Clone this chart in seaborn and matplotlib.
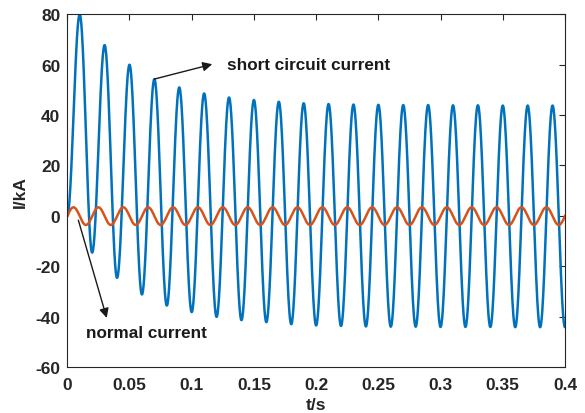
import matplotlib
matplotlib.use('Agg')
import matplotlib.pyplot as plt
import numpy as np
import pandas as pd
import seaborn as sns

sns.set_theme(style='white')
plt.rcParams['font.family'] = ['Liberation Sans', 'DejaVu Sans']
plt.rcParams['axes.unicode_minus'] = False

# short circuit current: extrema (kA), one every half period
SC_START = 0.0
SC_PEAKS = [80, 67.8, 60, 54.3, 51, 48.6, 47, 46, 45.3, 44.7,
            44.4, 44.2, 44.1, 44.0, 44.0, 43.9, 43.9, 43.8, 43.8, 43.8]
SC_TROUGHS = [-14.6, -24.6, -31.2, -35.6, -38.2, -40.1, -41.4, -42.2, -43.0, -43.5,
              -43.7, -43.9, -44.0, -44.0, -44.1, -44.1, -44.1, -44.2, -44.2, -44.2]
# normal current: extrema (kA)
NC_PEAKS = [3.4] * 21
NC_TROUGHS = [-3.6] * 21
PERIOD = 0.02

X_TICKS = [0, 0.05, 0.1, 0.15, 0.2, 0.25, 0.3, 0.35, 0.4]
X_TICK_LABELS = ['0', '0.05', '0.1', '0.15', '0.2', '0.25', '0.3', '0.35', '0.4']
Y_TICKS = [-60, -40, -20, 0, 20, 40, 60, 80]

BLUE = '#0072BD'
ORANGE = '#D95319'


def half_cos_curve(times, values, n=40):
    # join consecutive extrema with half-cosine segments
    ts, vs = [], []
    for (t0, v0), (t1, v1) in zip(zip(times[:-1], values[:-1]), zip(times[1:], values[1:])):
        s = np.linspace(0, 1, n, endpoint=False)
        ts.append(t0 + (t1 - t0) * s)
        vs.append(v0 + (v1 - v0) * (1 - np.cos(np.pi * s)) / 2)
    ts.append([times[-1]])
    vs.append([values[-1]])
    return np.concatenate(ts), np.concatenate(vs)


sc_vals = [SC_START]
for p, tr in zip(SC_PEAKS, SC_TROUGHS):
    sc_vals += [p, tr]
sc_times = [i * PERIOD / 2 for i in range(len(sc_vals))]
t_sc, i_sc = half_cos_curve(sc_times, sc_vals)

nc_vals = []
for tr, p in zip(NC_TROUGHS, NC_PEAKS):
    nc_vals += [tr, p]
nc_times = [-PERIOD / 4 + i * PERIOD / 2 for i in range(len(nc_vals))]
t_nc, i_nc = half_cos_curve(nc_times, nc_vals)

df_sc = pd.DataFrame({'t': t_sc, 'i': i_sc})
df_nc = pd.DataFrame({'t': t_nc, 'i': i_nc})

fig = plt.figure(figsize=(5.85, 4.14), dpi=100)
ax = fig.add_axes([0.1150, 0.111, 0.8508, 0.852])

sns.lineplot(x='t', y='i', data=df_sc, ax=ax, color=BLUE, lw=1.8, sort=False)
sns.lineplot(x='t', y='i', data=df_nc, ax=ax, color=ORANGE, lw=1.8, sort=False)

ax.set_xlim(0, 0.4)
ax.set_ylim(-60, 80)
ax.set_xticks(X_TICKS)
ax.set_xticklabels(X_TICK_LABELS)
ax.set_yticks(Y_TICKS)
for spine in ax.spines.values():
    spine.set_color('#262626')
    spine.set_linewidth(0.8)
ax.tick_params(direction='in', length=4, width=0.8, color='#262626',
               top=True, right=True, labelsize=12.5, labelcolor='#262626', pad=5)
ax.tick_params(axis='x', pad=7)
for lab in ax.get_xticklabels() + ax.get_yticklabels():
    lab.set_fontweight('bold')

ax.set_xlabel('t/s', fontsize=12.5, fontweight='bold', color='#262626', labelpad=4)
ax.set_ylabel('I/kA', fontsize=12.5, fontweight='bold', color='#262626', labelpad=5)

ax.annotate('', xy=(0.1165, 60.2), xytext=(0.070, 54.3),
            arrowprops=dict(arrowstyle='-|>', color='k', lw=1, mutation_scale=14,
                            shrinkA=0, shrinkB=0))
ax.text(0.128, 60.2, 'short circuit current', fontsize=12.3, fontweight='bold',
        ha='left', va='center', color='k')

ax.annotate('', xy=(0.0317, -40.5), xytext=(0.0089, -1.7),
            arrowprops=dict(arrowstyle='-|>', color='k', lw=1, mutation_scale=14,
                            shrinkA=0, shrinkB=0))
ax.text(0.015, -46.2, 'normal current', fontsize=12.3, fontweight='bold',
        ha='left', va='center', color='k')

fig.savefig('out.png', dpi=100)
